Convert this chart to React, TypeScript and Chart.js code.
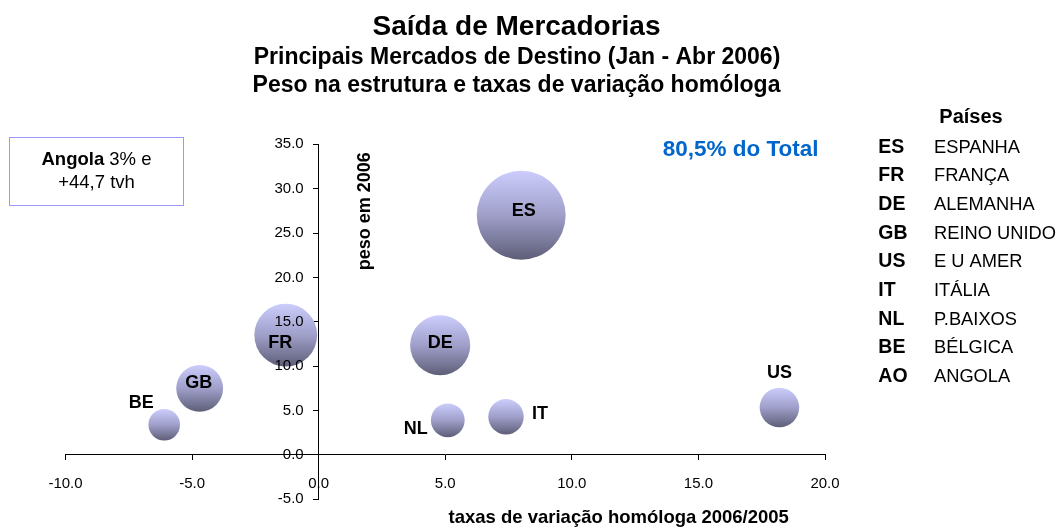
import React, { useEffect, useRef } from 'react';
import { Chart, registerables } from 'chart.js';

Chart.register(...registerables);

// ---- data ----
const codes = ['ES', 'FR', 'DE', 'GB', 'US', 'IT', 'NL', 'BE', 'AO'];
const names = ['ESPANHA', 'FRANÇA', 'ALEMANHA', 'REINO UNIDO', 'E U AMER', 'ITÁLIA', 'P.BAIXOS', 'BÉLGICA', 'ANGOLA'];
const growth = [8.0, -1.3, 4.8, -4.7, 18.2, 7.4, 5.1, -6.1, 44.7]; // taxa de variação homóloga
const weight = [27.0, 13.5, 12.35, 7.5, 5.35, 4.3, 3.9, 3.4, 3.0]; // peso em 2006 (also bubble size)
const xTickValues = [-10, -5, 0, 5, 10, 15, 20];
const yTickValues = [-5, 0, 5, 10, 15, 20, 25, 30, 35];

const titleLines = [
  'Saída de Mercadorias',
  'Principais Mercados de Destino (Jan - Abr 2006)',
  'Peso na estrutura e taxas de variação homóloga',
];
const xAxisTitle = 'taxas de variação homóloga 2006/2005';
const yAxisTitle = 'peso em 2006';
const totalNote = '80,5% do Total';
const legendTitle = 'Países';
const angolaNote = { bold: 'Angola', rest: ' 3% e', line2: '+44,7 tvh' };

// ---- style / layout ----
const FONT = '"Liberation Sans", Arial, Helvetica, sans-serif';
const RADIUS_K = 8.55;
const labelOffsets = [
  [2.5, -5.5], [-5.5, 7], [0, -3.5], [-1, -6], [0, -35.5], [34, -3.5], [-32, 8], [-23, -23], [0, 0],
];

const annotations = {
  id: 'annotations',
  afterDraw(chart: any) {
    const ctx = chart.ctx as CanvasRenderingContext2D;
    const area = chart.chartArea;
    ctx.save();
    ctx.fillStyle = '#000';

    // titles
    ctx.textAlign = 'center';
    ctx.textBaseline = 'alphabetic';
    ctx.font = `bold 28px ${FONT}`;
    ctx.fillText(titleLines[0], 516.5, 35);
    ctx.font = `bold 23px ${FONT}`;
    ctx.fillText(titleLines[1], 517, 64.3);
    ctx.fillText(titleLines[2], 516.5, 92.3);

    // bubble labels
    ctx.font = `bold 18px ${FONT}`;
    ctx.textAlign = 'center';
    ctx.textBaseline = 'middle';
    const meta = chart.getDatasetMeta(0);
    meta.data.forEach((el: any, i: number) => {
      if (el.x > area.right || el.x < area.left) return;
      const o = labelOffsets[i];
      ctx.fillText(codes[i], el.x + o[0], el.y + o[1] + 1);
    });

    // axis titles
    ctx.textBaseline = 'alphabetic';
    ctx.font = `bold 18.5px ${FONT}`;
    ctx.fillText(xAxisTitle, 618.7, 523.3);
    ctx.save();
    ctx.translate(369.5, 211.2);
    ctx.rotate(-Math.PI / 2);
    ctx.font = `bold 18px ${FONT}`;
    ctx.fillText(yAxisTitle, 0, 0);
    ctx.restore();

    // total note
    ctx.fillStyle = '#0066cc';
    ctx.textAlign = 'left';
    ctx.font = `bold 22.5px ${FONT}`;
    ctx.fillText(totalNote, 662.7, 156);

    // Angola box
    ctx.strokeStyle = '#9999ff';
    ctx.lineWidth = 1;
    ctx.strokeRect(9.5, 137.5, 174, 68);
    ctx.fillStyle = '#000';
    ctx.font = `bold 18.5px ${FONT}`;
    const wb = ctx.measureText(angolaNote.bold).width;
    ctx.font = `18.5px ${FONT}`;
    const wr = ctx.measureText(angolaNote.rest).width;
    const start = 96.5 - (wb + wr) / 2;
    ctx.textAlign = 'left';
    ctx.font = `bold 18.5px ${FONT}`;
    ctx.fillText(angolaNote.bold, start, 165);
    ctx.font = `18.5px ${FONT}`;
    ctx.fillText(angolaNote.rest, start + wb, 165);
    ctx.textAlign = 'center';
    ctx.fillText(angolaNote.line2, 96.5, 188.3);

    // legend
    ctx.textAlign = 'center';
    ctx.font = `bold 20px ${FONT}`;
    ctx.fillText(legendTitle, 971, 122.7);
    ctx.textAlign = 'left';
    codes.forEach((c, i) => {
      const y = 152.7 + i * 28.66;
      ctx.font = `bold 19.5px ${FONT}`;
      ctx.fillText(c, 878.3, y);
      ctx.font = `18.3px ${FONT}`;
      ctx.fillText(names[i], 934, y);
    });

    ctx.restore();
  },
};

export default function App() {
  const canvasRef = useRef<HTMLCanvasElement | null>(null);

  useEffect(() => {
    const canvas = canvasRef.current;
    if (!canvas) return;

    const radiusOf = (i: number) => RADIUS_K * Math.sqrt(weight[i]);

    const chart = new Chart(canvas, {
      type: 'bubble',
      data: {
        datasets: [
          {
            label: 'Países',
            data: codes.map((_, i) => ({ x: growth[i], y: weight[i] })),
            radius: (ctx: any) => radiusOf(ctx.dataIndex),
            borderWidth: 0,
            borderColor: 'rgba(0,0,0,0)',
            backgroundColor: (ctx: any) => {
              const chart = ctx.chart;
              const ys = chart.scales && chart.scales.y;
              if (!ys || !ctx.parsed || !chart.chartArea) return '#9c9cc8';
              const py = ys.getPixelForValue(ctx.parsed.y);
              const r = radiusOf(ctx.dataIndex);
              const g = chart.ctx.createLinearGradient(0, py - r, 0, py + r);
              g.addColorStop(0, '#cdcdfd');
              g.addColorStop(0.5, '#9f9fca');
              g.addColorStop(1, '#5e5e78');
              return g;
            },
          } as any,
        ],
      },
      options: {
        animation: false,
        responsive: false,
        events: [],
        layout: { autoPadding: false, padding: { left: 65.5, right: 235, top: 144.3, bottom: 29.7 } },
        plugins: {
          legend: { display: false },
          title: { display: false },
          tooltip: { enabled: false },
        },
        scales: {
          x: {
            type: 'linear',
            min: -10,
            max: 20,
            position: { y: 0 } as any,
            afterFit: (s: any) => { s.height = 0; s.paddingLeft = 0; s.paddingRight = 0; },
            afterBuildTicks: (s: any) => { s.ticks = xTickValues.map((v) => ({ value: v })); },
            grid: { drawOnChartArea: false, drawTicks: true, tickLength: 5, color: '#000', lineWidth: 1 },
            border: { display: true, color: '#000', width: 1, z: 1 } as any,
            ticks: {
              z: 1,
              font: { family: FONT, size: 15 },
              color: '#000',
              padding: 15,
              maxRotation: 0,
              autoSkip: false,
              callback: (v: any) => Number(v).toFixed(1),
            },
          },
          y: {
            type: 'linear',
            min: -5,
            max: 35,
            position: { x: 0 } as any,
            afterFit: (s: any) => { s.width = 0; s.paddingTop = 0; s.paddingBottom = 0; },
            afterBuildTicks: (s: any) => { s.ticks = yTickValues.map((v) => ({ value: v })); },
            grid: { drawOnChartArea: false, drawTicks: true, tickLength: 5, color: '#000', lineWidth: 1 },
            border: { display: true, color: '#000', width: 1, z: 1 } as any,
            ticks: {
              z: 1,
              font: { family: FONT, size: 15 },
              color: '#000',
              padding: 9,
              autoSkip: false,
              // trailing en-spaces keep the right-aligned labels clear of the axis line
              callback: (v: any) => Number(v).toFixed(1) + '\u2002\u2002',
            },
          },
        },
      },
      plugins: [annotations],
    });

    return () => chart.destroy();
  }, []);

  return (
    <div style={{ position: 'fixed', left: 0, top: 0, width: 1060, height: 529, background: '#fff' }}>
      <canvas ref={canvasRef} width={1060} height={529} style={{ display: 'block', width: 1060, height: 529 }} />
    </div>
  );
}
